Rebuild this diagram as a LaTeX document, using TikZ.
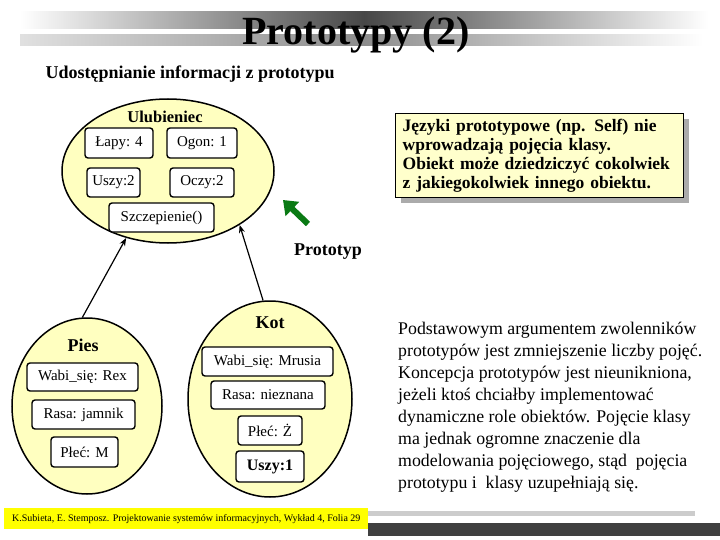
\documentclass[tikz,border=0pt]{standalone}
\usepackage{fontspec}
\setmainfont{Liberation Serif}
\usetikzlibrary{shapes.geometric, arrows.meta, shadows}
\definecolor{objFill}{HTML}{FFFFC0}
\definecolor{noteFill}{HTML}{FFFFCC}
\definecolor{footYellow}{HTML}{FFFF00}
\definecolor{protoGreen}{HTML}{0A7A14}

\begin{document}
\begin{tikzpicture}[x=1pt, y=-1pt,
  objblob/.style={ellipse, draw, line width=1.5pt, fill=objFill, inner sep=0pt},
  slot/.style={draw, line width=1.4pt, rounded corners=3pt, fill=white,
    inner sep=0pt, font=\fontsize{15}{15}\selectfont},
  objname/.style={anchor=base, font=\fontsize{18}{18}\selectfont\bfseries},
  link/.style={line width=1.2pt, -{Stealth[length=8pt, width=6pt]}}]
  \useasboundingbox (0,0) rectangle (720,540);

  % Title bars
  \shade[left color=white, right color=white, middle color=black!72] (20,12) rectangle (708,29);
  \shade[left color=black!12, right color=white, middle color=black!45] (20,35) rectangle (703,46);
  \node[anchor=base, font=\fontsize{40}{40}\selectfont\bfseries] (title) at (356,45) {Prototypy (2)};
  \node[anchor=base west, font=\fontsize{18}{18}\selectfont\bfseries] (subtitle) at (42,79)
    {Udostępnianie informacji z prototypu};

  % Prototype object
  \node[objblob, minimum width=212, minimum height=144] (ulub) at (168,171) {};
  \node[objname, font=\fontsize{16.5}{16.5}\selectfont\bfseries] (ulubname) at (165,123) {Ulubieniec};
  \node[slot, minimum width=68, minimum height=30] (lapy) at (119,143) {Łapy: 4};
  \node[slot, minimum width=70, minimum height=30] (ogon) at (202,143) {Ogon: 1};
  \node[slot, minimum width=53, minimum height=29] (uszy) at (113.5,182.5) {Uszy:2};
  \node[slot, minimum width=64, minimum height=29] (oczy) at (202,182.5) {Oczy:2};
  \node[slot, minimum width=105, minimum height=29] (szczep) at (161.5,217.5) {Szczepienie()};

  % Pointer to the prototype
  \coordinate (ptail) at (308,224);
  \coordinate (ptip) at (283,200);
  \draw[protoGreen, line width=6pt, -{Triangle[length=13pt, width=19pt]}] (ptail) -- (ptip);
  \node[objname] (protolabel) at (328,255) {Prototyp};

  % Note
  \node[draw, line width=1.3pt, fill=noteFill, anchor=north west,
    drop shadow={shadow xshift=5pt, shadow yshift=-5pt, fill=black!33, opacity=1},
    text width=274pt, inner xsep=7pt, minimum height=84, align=left,
    font=\fontsize{17.5}{19}\selectfont\bfseries] (note) at (395,113)
    {Języki prototypowe (np. Self) nie\\
     wprowadzają pojęcia klasy.\\
     Obiekt może dziedziczyć cokolwiek\\
     z jakiegokolwiek innego obiektu.};

  % Object Pies
  \node[objblob, minimum width=150, minimum height=176] (pies) at (87,406) {};
  \node[objname] (piesname) at (83,351) {Pies};
  \node[slot, minimum width=111, minimum height=28] (rex) at (82.5,377) {Wabi\_się: Rex};
  \node[slot, minimum width=103, minimum height=29] (jamnik) at (83.5,414.5) {Rasa: jamnik};
  \node[slot, minimum width=67, minimum height=30] (plecm) at (84.5,452) {Płeć: M};

  % Object Kot
  \node[objblob, minimum width=164, minimum height=196] (kot) at (270,399) {};
  \node[objname] (kotname) at (270,328) {Kot};
  \node[slot, minimum width=131, minimum height=29] (mrusia) at (267.5,361.5) {Wabi\_się: Mrusia};
  \node[slot, minimum width=114, minimum height=28] (nieznana) at (268,395) {Rasa: nieznana};
  \node[slot, minimum width=64, minimum height=29] (plecz) at (270,430.5) {Płeć: Ż};
  \node[slot, minimum width=68, minimum height=31, font=\fontsize{16}{16}\selectfont\bfseries]
    (uszyjeden) at (270,466.5) {Uszy:1};

  % Delegation links
  \draw[link] (pies.93) -- (ulub.238);
  \draw[link] (kot.94) -- (ulub.323);

  % Comment text
  \node[anchor=north west, align=left, inner sep=0pt,
    font=\fontsize{17.8}{22}\selectfont] (comment) at (398,322)
    {Podstawowym argumentem zwolenników\\
     prototypów jest zmniejszenie liczby pojęć.\\
     Koncepcja prototypów jest nieunikniona,\\
     jeżeli ktoś chciałby implementować\\
     dynamiczne role obiektów. Pojęcie klasy\\
     ma jednak ogromne znaczenie dla\\
     modelowania pojęciowego, stąd~ pojęcia\\
     prototypu i~ klasy uzupełniają się.};

  % Footer
  \fill[black!20] (60,511) rectangle (695,516);
  \fill[black!75] (368,523) rectangle (720,536);
  \fill[footYellow] (4,508) rectangle (368,529);
  \node[anchor=west, inner sep=0pt, font=\fontsize{10}{10}\selectfont] (footer) at (12,519)
    {K.Subieta, E. Stemposz. Projektowanie systemów informacyjnych, Wykład 4, Folia 29};
\end{tikzpicture}
\end{document}
